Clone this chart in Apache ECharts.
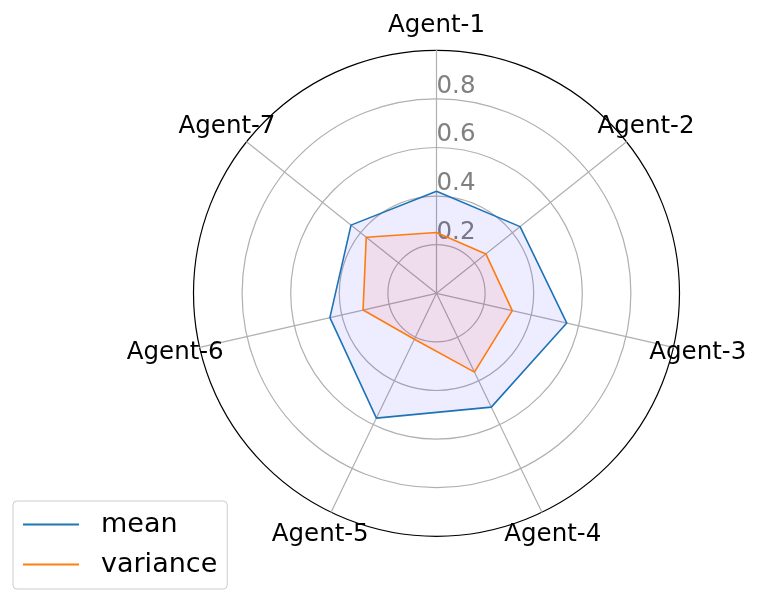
<!DOCTYPE html>
<html>
<head>
<meta charset="utf-8">
<script src="https://cdn.jsdelivr.net/npm/echarts@6/dist/echarts.min.js"></script>
<style>
  html, body { margin: 0; padding: 0; background: #fff; }
  #chart { width: 761px; height: 602px; }
</style>
</head>
<body>
<div id="chart"></div>
<script>
// axes, clockwise from the top
const agents = ["Agent-1", "Agent-2", "Agent-3", "Agent-4", "Agent-5", "Agent-6", "Agent-7"];
const meanValues = [0.42, 0.44, 0.55, 0.52, 0.57, 0.45, 0.45];
const varianceValues = [0.25, 0.26, 0.32, 0.36, 0.21, 0.31, 0.37];
const tickLabels = ["0.2", "0.4", "0.6", "0.8"];

// echarts lays radar indicators out counter-clockwise, so walk the list backwards
const order = [0, 6, 5, 4, 3, 2, 1];
const pick = arr => order.map(i => arr[i]);

const font = "DejaVu Sans";

const chart = echarts.init(document.getElementById("chart"));

const option = {
    animation: false,
    legend: {
        orient: "vertical",
        left: 13,
        top: 501,
        padding: [8, 10, 9, 10],
        itemGap: 9,
        itemWidth: 56,
        itemHeight: 2,
        icon: "rect",
        borderColor: "#cccccc",
        borderWidth: 1,
        borderRadius: 4,
        textStyle: {
            fontFamily: font,
            fontSize: 27,
            lineHeight: 31,
            color: "#000",
            padding: [0, 0, 0, 17]
        },
        data: ["mean", "variance"]
    },
    radar: {
        center: [436.5, 293.3],
        radius: 243,
        startAngle: 90,
        shape: "circle",
        splitNumber: 5,
        nameGap: 25,
        axisName: {
            color: "#000",
            fontFamily: font,
            fontSize: 24.5,
            align: "center",
            verticalAlign: "middle"
        },
        indicator: pick(agents).map((name, i) => {
            const ind = { name: name, min: 0, max: 1 };
            if (i === 0) {
                // tick labels only along the first axis
                ind.axisLabel = {
                    show: true,
                    margin: 0,
                    color: "#808080",
                    fontFamily: font,
                    fontSize: 24.5,
                    align: "left",
                    verticalAlign: "bottom",
                    formatter: function (v) {
                        const s = Number(v).toFixed(1);
                        return tickLabels.indexOf(s) >= 0 ? s : "";
                    }
                };
            }
            return ind;
        }),
        axisLabel: { show: false },
        axisTick: { show: false },
        axisLine: { lineStyle: { color: "#b0b0b0", width: 1.2 } },
        splitArea: { show: false },
        splitLine: {
            lineStyle: {
                color: ["#b0b0b0", "#b0b0b0", "#b0b0b0", "#b0b0b0", "#b0b0b0", "#000000"],
                width: 1.2
            }
        }
    },
    series: [
        {
            type: "radar",
            symbol: "none",
            data: [
                {
                    name: "mean",
                    value: pick(meanValues),
                    itemStyle: { color: "#1f77b4" },
                    lineStyle: { color: "#1f77b4", width: 1.6 },
                    areaStyle: { color: "rgba(0,0,255,0.1)" }
                },
                {
                    name: "variance",
                    value: pick(varianceValues),
                    itemStyle: { color: "#ff7f0e" },
                    lineStyle: { color: "#ff7f0e", width: 1.6 },
                    areaStyle: { color: "rgba(255,0,0,0.1)" }
                }
            ]
        }
    ]
};

chart.setOption(option);
</script>
</body>
</html>
